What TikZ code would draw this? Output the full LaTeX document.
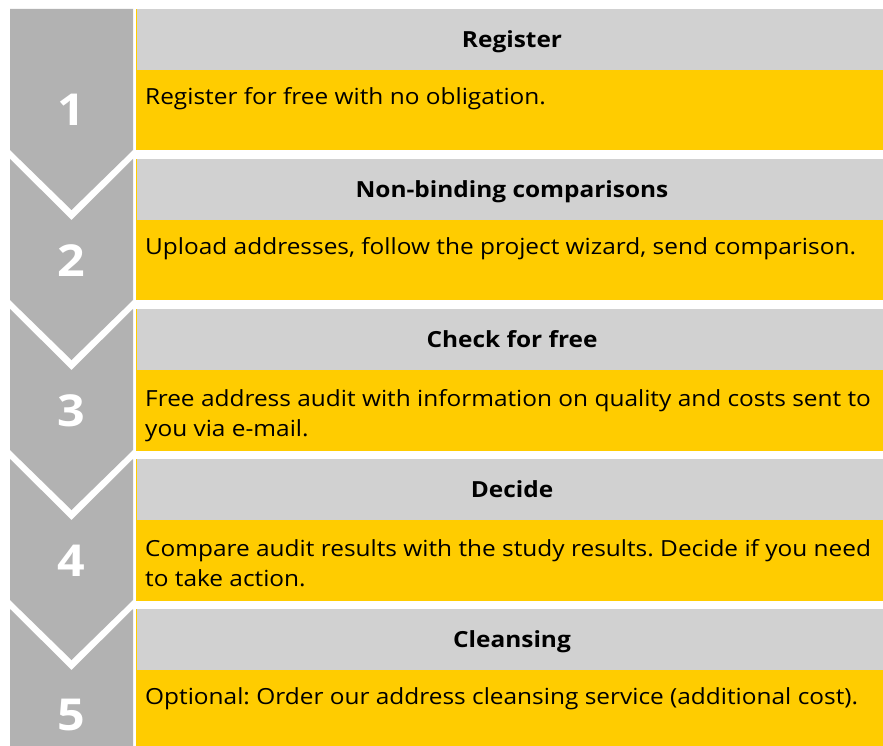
\documentclass[tikz,border=0pt]{standalone}
\usepackage{fontspec}
\setmainfont{Open Sans}[FakeStretch=1.1]
\definecolor{dhlyellow}{HTML}{FFCC00}
\definecolor{hdrgray}{HTML}{D1D1D1}
\definecolor{chevgray}{HTML}{B2B2B2}
\tikzset{
  numtxt/.style={anchor=base, inner sep=0pt, text=white, font=\fontsize{44}{44}\selectfont\bfseries},
  headtxt/.style={anchor=base, inner sep=0pt, text=black, font=\fontsize{22.2}{30}\selectfont\bfseries},
  bodytxt/.style={anchor=base west, inner sep=0pt, text=black, align=left, font=\fontsize{22.2}{30}\selectfont},
}
\frenchspacing
\begin{document}
\begin{tikzpicture}[x=1pt,y=-1pt]
\useasboundingbox[fill=white] (0,0) rectangle (883,746);
% chevrons
\fill[chevgray] (10,9) -- (133,9) -- (133,150) -- (71.5,210) -- (10,150) -- cycle;
\foreach \T in {159,309,459}{
  \fill[chevgray] (10,\T) -- (71.5,\T+61) -- (133,\T) -- (133,\T+141) -- (71.5,\T+201) -- (10,\T+141) -- cycle;
}
\fill[chevgray] (10,609) -- (71.5,670) -- (133,609) -- (133,746) -- (10,746) -- cycle;
% boxes
\foreach \T/\B in {9/150,159/300,309/451,459/601,609/746}{
  \fill[dhlyellow] (136,\T) rectangle (883,\B);
  \fill[hdrgray] (137,\T) rectangle (883,\T+61);
}
% texts
\foreach \i/\T/\N/\L/\head/\body in {
  1/9/117/95.5/{Register}/{Register for free with no obligation.},
  2/159/117/95.5/{Non-binding comparisons}/{Upload addresses, follow the project wizard, send comparison.},
  3/309/117/127/{Check for free}/{Free address audit with information on quality and costs sent to\\you via e-mail.},
  4/459/117/127/{Decide}/{Compare audit results with the study results. Decide if you need\\to take action.},
  5/609/121/95.5/{Cleansing}/{Optional: Order our address cleansing service (additional cost).}}{
  \node[numtxt] (n\i) at (71.5,\T+\N) {\i};
  \node[headtxt] (h\i) at (512,\T+38.5) {\head};
  \node[bodytxt] (b\i) at (145,\T+\L) {\body};
}
\end{tikzpicture}
\end{document}
